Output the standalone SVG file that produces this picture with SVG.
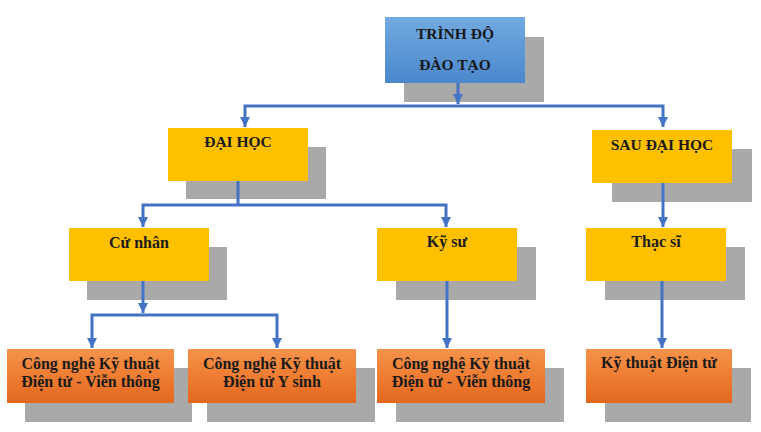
<svg xmlns="http://www.w3.org/2000/svg" width="761" height="432" viewBox="0 0 761 432">
  <defs>
    <linearGradient id="gBlue" x1="0" y1="0" x2="0" y2="1">
      <stop offset="0" stop-color="#72AAE0"/>
      <stop offset="1" stop-color="#4A87CC"/>
    </linearGradient>
    <linearGradient id="gOrange" x1="0" y1="0" x2="0" y2="1">
      <stop offset="0" stop-color="#F4934A"/>
      <stop offset="0.5" stop-color="#EE7D32"/>
      <stop offset="1" stop-color="#E2671F"/>
    </linearGradient>
    <marker id="arr" viewBox="0 0 10 10" refX="10" refY="5" markerWidth="10" markerHeight="10" markerUnits="userSpaceOnUse" orient="auto-start-reverse">
      <path d="M0,0 L10,5 L0,10 z" fill="#4472C4"/>
    </marker>
  </defs>
  <style>
    .shadow { fill: #A9A9A9; }
    .blue { fill: url(#gBlue); }
    .yellow { fill: #FFC000; }
    .orange { fill: url(#gOrange); }
    .t { font-family: "Liberation Serif", "Times New Roman", serif; font-weight: bold; font-size: 16px; fill: #1A1A1A; text-anchor: middle; }
    .caps { font-size: 15.5px; }
    .conn { fill: none; stroke: #4472C4; stroke-width: 3; }
  </style>
  <rect width="761" height="432" fill="#FFFFFF"/>

  <g id="node-trinh-do">
    <rect class="shadow" x="404" y="37" width="140" height="65"/>
    <rect class="blue" x="385" y="17" width="140" height="66"/>
    <text class="t caps" x="455" y="39">TRÌNH ĐỘ</text>
    <text class="t caps" x="455" y="70">ĐÀO TẠO</text>
  </g>

  <g id="node-dai-hoc">
    <rect class="shadow" x="186" y="147" width="140" height="52"/>
    <rect class="yellow" x="168" y="128" width="140" height="53"/>
    <text class="t caps" x="238" y="147">ĐẠI HỌC</text>
  </g>

  <g id="node-sau-dai-hoc">
    <rect class="shadow" x="612" y="149" width="140" height="53"/>
    <rect class="yellow" x="592" y="130" width="140" height="53"/>
    <text class="t caps" x="662" y="150">SAU ĐẠI HỌC</text>
  </g>

  <g id="node-cu-nhan">
    <rect class="shadow" x="87" y="247" width="140" height="53"/>
    <rect class="yellow" x="69" y="228" width="140" height="53"/>
    <text class="t" x="139" y="248">Cử nhân</text>
  </g>

  <g id="node-ky-su">
    <rect class="shadow" x="396" y="247" width="140" height="53"/>
    <rect class="yellow" x="377" y="228" width="140" height="53"/>
    <text class="t" x="447" y="247">Kỹ sư</text>
  </g>

  <g id="node-thac-si">
    <rect class="shadow" x="605" y="247" width="140" height="53"/>
    <rect class="yellow" x="586" y="228" width="140" height="53"/>
    <text class="t" x="656" y="247">Thạc sĩ</text>
  </g>

  <g id="node-cn-vt">
    <rect class="shadow" x="25" y="368" width="167" height="54"/>
    <rect class="orange" x="7" y="349" width="167" height="54"/>
    <text class="t" x="90.5" y="369">Công nghệ Kỹ thuật</text>
    <text class="t" x="90.5" y="387">Điện tử - Viễn thông</text>
  </g>

  <g id="node-cn-ys">
    <rect class="shadow" x="207" y="368" width="168" height="54"/>
    <rect class="orange" x="188" y="349" width="168" height="54"/>
    <text class="t" x="272" y="369">Công nghệ Kỹ thuật</text>
    <text class="t" x="272" y="387">Điện tử Y sinh</text>
  </g>

  <g id="node-ks-vt">
    <rect class="shadow" x="396" y="368" width="168" height="54"/>
    <rect class="orange" x="377" y="349" width="168" height="54"/>
    <text class="t" x="461" y="369">Công nghệ Kỹ thuật</text>
    <text class="t" x="461" y="387">Điện tử - Viễn thông</text>
  </g>

  <g id="node-ktdt">
    <rect class="shadow" x="605" y="368" width="146" height="54"/>
    <rect class="orange" x="586" y="349" width="146" height="54"/>
    <text class="t" x="659" y="368">Kỹ thuật Điện tử</text>
  </g>

  <g id="connectors">
    <path class="conn" d="M458,83 V104" marker-end="url(#arr)"/>
    <path class="conn" d="M245,127 V106 H663 V127" marker-start="url(#arr)" marker-end="url(#arr)"/>
    <path class="conn" d="M238,181 V205"/>
    <path class="conn" d="M143,227 V205 H446 V227" marker-start="url(#arr)" marker-end="url(#arr)"/>
    <path class="conn" d="M663,183 V227" marker-end="url(#arr)"/>
    <path class="conn" d="M143,281 V313" marker-end="url(#arr)"/>
    <path class="conn" d="M92,348 V315 H277 V348" marker-start="url(#arr)" marker-end="url(#arr)"/>
    <path class="conn" d="M447,281 V348" marker-end="url(#arr)"/>
    <path class="conn" d="M662,281 V348" marker-end="url(#arr)"/>
  </g>
</svg>
